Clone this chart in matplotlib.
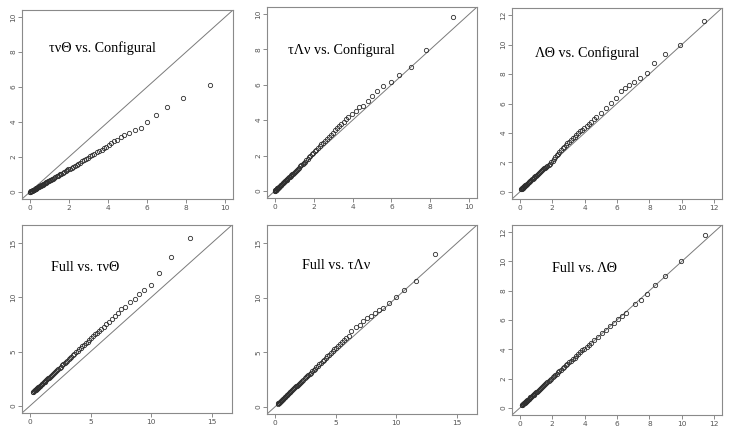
import matplotlib
matplotlib.use("Agg")
import matplotlib.pyplot as plt

# ---------------- data ----------------
titles = ["\u03c4\u03bd\u0398 vs. Configural", "\u03c4\u039b\u03bd vs. Configural", "\u039b\u0398 vs. Configural",
          "Full vs. \u03c4\u03bd\u0398", "Full vs. \u03c4\u039b\u03bd", "Full vs. \u039b\u0398"]

p1_x = [0.01,0.02,0.03,0.04,0.05,0.06,0.07,0.08,0.09,0.10,0.12,0.13,0.15,0.16,0.18,0.20,0.22,0.24,0.26,0.28,
        0.30,0.32,0.34,0.37,0.40,0.43,0.46,0.49,0.52,0.55,0.58,0.61,0.65,0.69,0.73,0.77,0.81,0.85,0.89,0.94,
        0.99,1.04,1.09,1.14,1.19,1.25,1.31,1.37,1.43,1.49,1.55,1.62,1.69,1.76,1.83,1.90,1.98,2.06,2.14,2.22,
        2.31,2.40,2.49,2.58,2.68,2.78,2.88,2.98,3.09,3.20,3.31,3.43,3.55,3.67,3.79,3.92,4.05,4.18,4.31,4.47,
        4.65,4.84,5.09,5.38,5.68,6.00,6.46,7.03,7.86,9.23]
p1_y = [0.01,0.01,0.02,0.03,0.03,0.04,0.05,0.05,0.06,0.07,0.08,0.08,0.10,0.10,0.12,0.13,0.14,0.16,0.17,0.18,
        0.20,0.21,0.22,0.24,0.26,0.28,0.30,0.32,0.34,0.36,0.38,0.40,0.42,0.45,0.47,0.50,0.53,0.55,0.58,0.61,
        0.64,0.68,0.71,0.74,0.77,0.81,0.85,0.89,0.93,0.97,1.01,1.05,1.10,1.14,1.19,1.24,1.29,1.34,1.39,1.44,
        1.49,1.55,1.62,1.68,1.75,1.82,1.90,1.97,2.04,2.11,2.18,2.26,2.33,2.41,2.50,2.59,2.70,2.80,2.89,2.99,
        3.12,3.25,3.38,3.52,3.67,3.98,4.38,4.84,5.36,6.13]

p2_x = [0.01,0.02,0.03,0.04,0.05,0.06,0.07,0.08,0.09,0.10,0.12,0.13,0.15,0.16,0.18,0.20,0.22,0.24,0.26,0.28,
        0.30,0.32,0.34,0.37,0.40,0.43,0.46,0.49,0.52,0.55,0.58,0.61,0.65,0.69,0.73,0.77,0.81,0.85,0.89,0.94,
        0.99,1.04,1.09,1.14,1.19,1.25,1.31,1.37,1.43,1.49,1.55,1.62,1.69,1.76,1.83,1.90,1.98,2.06,2.14,2.22,
        2.31,2.40,2.49,2.58,2.68,2.78,2.88,2.98,3.09,3.20,3.31,3.43,3.55,3.67,3.78,3.95,4.17,4.34,4.55,4.77,
        5.02,5.28,5.59,5.96,6.40,6.98,7.78,9.16]
p2_y = [0.01,0.02,0.03,0.04,0.05,0.06,0.07,0.08,0.09,0.10,0.12,0.14,0.16,0.17,0.19,0.21,0.23,0.25,0.27,0.29,
        0.31,0.33,0.35,0.38,0.42,0.45,0.48,0.51,0.54,0.57,0.60,0.63,0.68,0.72,0.76,0.80,0.84,0.88,0.93,0.98,
        1.03,1.08,1.14,1.20,1.25,1.32,1.39,1.46,1.53,1.59,1.66,1.74,1.82,1.90,1.98,2.06,2.15,2.24,2.33,2.42,
        2.52,2.63,2.73,2.84,2.95,3.06,3.18,3.30,3.42,3.54,3.67,3.79,3.92,4.05,4.20,4.36,4.52,4.73,4.81,5.11,
        5.37,5.66,5.96,6.17,6.55,7.01,7.97,9.81]

p3_x = [0.08,0.10,0.12,0.14,0.16,0.18,0.20,0.22,0.25,0.28,0.31,0.34,0.37,0.40,0.43,0.46,0.50,0.54,0.58,0.62,
        0.66,0.70,0.75,0.80,0.85,0.90,0.95,1.00,1.06,1.12,1.18,1.24,1.30,1.36,1.43,1.50,1.57,1.64,1.71,1.78,
        1.86,1.94,2.02,2.10,2.18,2.27,2.36,2.45,2.54,2.64,2.74,2.84,2.94,3.05,3.16,3.27,3.38,3.50,3.62,3.74,
        3.86,3.99,4.12,4.25,4.38,4.55,4.72,5.03,5.34,5.65,5.92,6.23,6.47,6.74,7.05,7.40,7.88,8.29,8.95,9.88,
        11.38]
p3_y = [0.18,0.20,0.22,0.24,0.26,0.28,0.30,0.32,0.35,0.38,0.41,0.44,0.47,0.50,0.53,0.56,0.60,0.64,0.68,0.72,
        0.76,0.80,0.85,0.90,0.95,1.00,1.05,1.10,1.16,1.22,1.28,1.34,1.40,1.46,1.53,1.59,1.65,1.71,1.77,1.84,
        1.91,2.00,2.12,2.24,2.36,2.48,2.60,2.72,2.83,2.95,3.07,3.19,3.30,3.42,3.53,3.64,3.75,3.87,3.99,4.11,
        4.23,4.36,4.49,4.62,4.75,4.92,5.09,5.37,5.71,6.06,6.37,6.83,7.06,7.25,7.47,7.73,8.07,8.74,9.38,10.00,
        11.63]

p4_x = [0.27,0.30,0.33,0.36,0.40,0.44,0.48,0.52,0.56,0.60,0.65,0.70,0.75,0.80,0.85,0.91,0.97,1.03,1.09,1.15,
        1.22,1.29,1.36,1.43,1.50,1.58,1.66,1.74,1.82,1.90,1.99,2.08,2.17,2.26,2.35,2.45,2.55,2.65,2.75,2.86,
        2.97,3.08,3.19,3.31,3.43,3.55,3.67,3.80,3.93,4.06,4.19,4.33,4.47,4.61,4.76,4.91,5.06,5.22,5.38,5.55,
        5.72,5.90,6.08,6.27,6.50,6.75,6.98,7.25,7.52,7.87,8.24,8.62,9.00,9.43,10.00,10.65,11.60,13.22]
p4_y = [1.30,1.33,1.36,1.39,1.43,1.47,1.51,1.55,1.59,1.63,1.68,1.73,1.78,1.83,1.88,1.94,2.00,2.06,2.12,2.18,
        2.25,2.32,2.40,2.47,2.54,2.62,2.70,2.79,2.87,2.95,3.05,3.14,3.23,3.33,3.42,3.53,3.63,3.74,3.84,3.95,
        4.07,4.18,4.30,4.42,4.55,4.67,4.80,4.93,5.07,5.20,5.34,5.48,5.63,5.77,5.93,6.08,6.24,6.41,6.58,6.75,
        6.93,7.12,7.31,7.51,7.74,8.02,8.31,8.58,8.89,9.14,9.54,9.84,10.27,10.64,11.16,12.21,13.68,15.46]

p5_x = [0.27,0.30,0.33,0.36,0.40,0.44,0.48,0.52,0.56,0.60,0.65,0.70,0.75,0.80,0.85,0.91,0.97,1.03,1.09,1.15,
        1.22,1.29,1.36,1.43,1.50,1.58,1.66,1.74,1.82,1.90,1.99,2.08,2.17,2.26,2.35,2.45,2.55,2.65,2.75,2.86,
        2.97,3.08,3.19,3.31,3.43,3.55,3.67,3.80,3.93,4.06,4.19,4.33,4.47,4.61,4.76,4.91,5.06,5.22,5.38,5.55,
        5.72,5.90,6.08,6.30,6.70,7.00,7.27,7.60,7.92,8.27,8.60,8.92,9.41,10.00,10.65,11.62,13.22]
p5_y = [0.32,0.35,0.38,0.41,0.46,0.50,0.54,0.58,0.63,0.67,0.72,0.77,0.83,0.88,0.94,1.00,1.07,1.13,1.19,1.26,
        1.33,1.40,1.48,1.55,1.62,1.71,1.79,1.88,1.96,2.04,2.14,2.23,2.32,2.42,2.51,2.61,2.72,2.82,2.92,3.04,
        3.15,3.27,3.39,3.52,3.65,3.78,3.92,4.06,4.20,4.34,4.49,4.64,4.79,4.94,5.10,5.26,5.42,5.59,5.76,5.94,
        6.13,6.33,6.53,6.93,7.29,7.54,7.90,8.12,8.36,8.60,8.85,9.09,9.49,10.05,10.72,11.50,13.95]

p6_x = [0.12,0.14,0.16,0.18,0.20,0.22,0.25,0.28,0.31,0.34,0.37,0.40,0.43,0.46,0.50,0.54,0.58,0.62,0.66,0.70,
        0.75,0.80,0.85,0.90,0.95,1.00,1.06,1.12,1.18,1.24,1.30,1.36,1.43,1.50,1.57,1.64,1.71,1.78,1.86,1.94,
        2.02,2.10,2.18,2.27,2.36,2.45,2.54,2.64,2.74,2.84,2.94,3.05,3.16,3.27,3.38,3.50,3.62,3.74,3.86,3.99,
        4.12,4.25,4.38,4.60,4.80,5.05,5.30,5.55,5.80,6.05,6.30,6.58,7.09,7.46,7.86,8.37,8.99,9.92,11.42]
p6_y = [0.18,0.20,0.22,0.24,0.26,0.28,0.31,0.34,0.37,0.40,0.43,0.46,0.49,0.52,0.56,0.60,0.64,0.68,0.72,0.76,
        0.81,0.86,0.91,0.96,1.01,1.06,1.11,1.17,1.23,1.29,1.35,1.41,1.48,1.55,1.62,1.69,1.76,1.83,1.91,1.99,
        2.08,2.16,2.24,2.33,2.42,2.51,2.61,2.71,2.81,2.91,3.01,3.12,3.23,3.34,3.44,3.56,3.68,3.80,3.92,4.05,
        4.18,4.31,4.44,4.65,4.85,5.09,5.33,5.57,5.80,6.05,6.30,6.48,7.09,7.36,7.75,8.37,9.00,10.00,11.82]

limits = [(-0.4, 10.4), (-0.4, 10.4), (-0.48, 12.48), (-0.64, 16.64), (-0.64, 16.64), (-0.48, 12.48)]
ticks = [[0, 2, 4, 6, 8, 10], [0, 2, 4, 6, 8, 10], [0, 2, 4, 6, 8, 10, 12],
         [0, 5, 10, 15], [0, 5, 10, 15], [0, 2, 4, 6, 8, 10, 12]]

# ---------------- layout (pixels) ----------------
W, H = 733, 438
boxes = [(22, 10, 233, 199), (267, 7, 477, 198), (512, 8, 722, 199),
         (22, 225, 232, 413), (267, 225, 477, 414), (512, 225, 722, 415)]
title_pos = [(49, 52), (288, 54), (535, 57), (51, 271), (302, 269), (552, 272)]

fig = plt.figure(figsize=(W / 100, H / 100), dpi=100)
fig.patch.set_facecolor("white")

xs = [p1_x, p2_x, p3_x, p4_x, p5_x, p6_x]
ys = [p1_y, p2_y, p3_y, p4_y, p5_y, p6_y]

for i in range(6):
    l, t, r, b = boxes[i]
    ax = fig.add_axes([l / W, 1 - b / H, (r - l) / W, (b - t) / H])
    lo, hi = limits[i]
    ax.set_xlim(lo, hi)
    ax.set_ylim(lo, hi)
    ax.plot([lo, hi], [lo, hi], color="#7a7a7a", lw=0.7, zorder=1)
    ax.plot(xs[i], ys[i], linestyle="none", marker="o", markersize=3.1,
            markerfacecolor="none", markeredgecolor="#2e2e2e", markeredgewidth=0.6, zorder=2)
    ax.set_xticks(ticks[i])
    ax.set_yticks(ticks[i])
    ax.tick_params(axis="both", length=3, width=0.6, color="#777777", labelsize=5.3,
                   labelcolor="#555555", pad=1)
    for lab in ax.get_yticklabels():
        lab.set_rotation(90)
        lab.set_va("center")
    for sp in ax.spines.values():
        sp.set_color("#8a8a8a")
        sp.set_linewidth(0.8)
    tx, ty = title_pos[i]
    fig.text(tx / W, 1 - ty / H, titles[i], fontsize=10.2, family=["Liberation Serif", "DejaVu Serif"],
             ha="left", va="baseline", color="black")

fig.savefig("out.png", dpi=100, facecolor="white")
